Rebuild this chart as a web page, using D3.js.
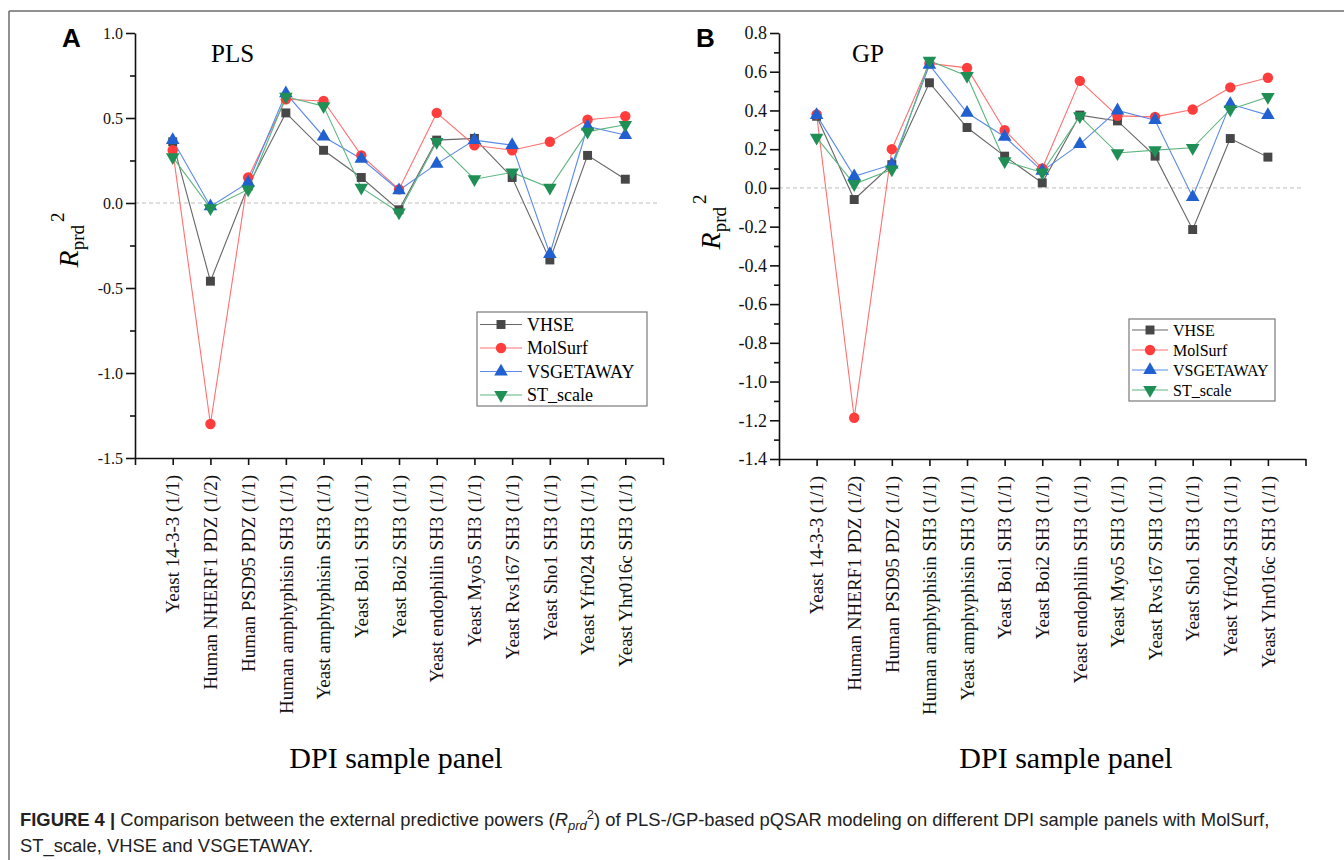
<!DOCTYPE html>
<html lang="en">
<head>
    <meta charset="UTF-8">
    <title>Figure 4 - Rprd2 comparison</title>
    <script src="https://d3js.org/d3.v7.min.js"></script>
    <style>
        body { margin: 0; background: #fff; }
        .serif { font-family: "Liberation Serif", "Times New Roman", serif; }
        .sans { font-family: "Liberation Sans", Arial, sans-serif; }
        .axis path, .axis line { stroke: #111; stroke-width: 1.6; }
        .axis text { fill: #111; }
    </style>
</head>
<body>
<div id="chart"></div>
<script>
    // DPI sample panels (x categories)
    const categories = [
        "Yeast 14-3-3 (1/1)", "Human NHERF1 PDZ (1/2)", "Human PSD95 PDZ (1/1)",
        "Human amphyphisin SH3 (1/1)", "Yeast amphyphisin SH3 (1/1)", "Yeast Boi1 SH3 (1/1)",
        "Yeast Boi2 SH3 (1/1)", "Yeast endophilin SH3 (1/1)", "Yeast Myo5 SH3 (1/1)",
        "Yeast Rvs167 SH3 (1/1)", "Yeast Sho1 SH3 (1/1)", "Yeast Yfr024 SH3 (1/1)",
        "Yeast Yhr016c SH3 (1/1)"
    ];
    const seriesNames = ["VHSE", "MolSurf", "VSGETAWAY", "ST_scale"];

    // panel A: PLS
    const plsVHSE      = [0.36, -0.46, 0.10, 0.53, 0.31, 0.15, -0.04, 0.37, 0.38, 0.15, -0.335, 0.28, 0.14];
    const plsMolSurf   = [0.31, -1.30, 0.15, 0.61, 0.60, 0.28, 0.08, 0.53, 0.34, 0.31, 0.36, 0.49, 0.51];
    const plsVSGETAWAY = [0.37, -0.02, 0.12, 0.645, 0.39, 0.26, 0.075, 0.23, 0.37, 0.34, -0.30, 0.45, 0.40];
    const plsSTscale   = [0.27, -0.03, 0.08, 0.625, 0.57, 0.09, -0.055, 0.36, 0.14, 0.18, 0.09, 0.42, 0.46];

    // panel B: GP
    const gpVHSE      = [0.37, -0.06, 0.12, 0.543, 0.312, 0.164, 0.026, 0.376, 0.346, 0.164, -0.215, 0.255, 0.159];
    const gpMolSurf   = [0.38, -1.187, 0.20, 0.643, 0.62, 0.298, 0.10, 0.553, 0.372, 0.367, 0.405, 0.519, 0.569];
    const gpVSGETAWAY = [0.376, 0.06, 0.12, 0.635, 0.388, 0.264, 0.088, 0.226, 0.40, 0.35, -0.047, 0.433, 0.376];
    const gpSTscale   = [0.26, 0.02, 0.095, 0.657, 0.578, 0.138, 0.08, 0.37, 0.18, 0.195, 0.207, 0.405, 0.47];

    // y tick values
    const plsTicks = [-1.5, -1.0, -0.5, 0.0, 0.5, 1.0];
    const gpTicks  = [-1.4, -1.2, -1.0, -0.8, -0.6, -0.4, -0.2, 0.0, 0.2, 0.4, 0.6, 0.8];

    // styles per series
    const markerColor = ["#474747", "#ff3d3d", "#2060d0", "#1f8f55"];
    const lineColor   = ["#666666", "#ff7070", "#5b8ae8", "#5db57f"];
    const invTriangle = {
        draw(ctx, size) {
            const s = Math.sqrt(size * 4 / Math.sqrt(3));
            const h = s * Math.sqrt(3) / 2;
            ctx.moveTo(0, h * 2 / 3);
            ctx.lineTo(-s / 2, -h / 3);
            ctx.lineTo(s / 2, -h / 3);
            ctx.closePath();
        }
    };
    const symbols = [d3.symbolSquare, d3.symbolCircle, d3.symbolTriangle, invTriangle];
    const symSize = [80, 85, 80, 80];

    // plain hyphen for negatives, like the original figure
    const fmt = v => d3.format(".1f")(v).replace("\u2212", "-");

    const svg = d3.select("#chart").append("svg")
        .attr("width", 1344).attr("height", 860);

    // figure frame (top and left)
    svg.append("line").attr("x1", 9).attr("y1", 11).attr("x2", 1344).attr("y2", 11)
        .attr("stroke", "#6b6b6b").attr("stroke-width", 1.5);
    svg.append("line").attr("x1", 9).attr("y1", 11).attr("x2", 9).attr("y2", 860)
        .attr("stroke", "#6b6b6b").attr("stroke-width", 1.5);

    function drawPanel(p) {
        const g = svg.append("g");
        const x = d3.scaleLinear().domain([0, categories.length + 1]).range([p.left, p.right]);
        const y = d3.scaleLinear().domain(p.domain).range([p.bottom, p.top]);

        // zero reference line
        g.append("line")
            .attr("x1", x(0)).attr("x2", x(categories.length + 1) - 3)
            .attr("y1", y(0)).attr("y2", y(0))
            .attr("stroke", "#bdbdbd").attr("stroke-width", 1)
            .attr("stroke-dasharray", "4,3");

        // minor y ticks
        g.append("g").attr("class", "axis")
            .attr("transform", `translate(${p.left},0)`)
            .call(d3.axisLeft(y).tickValues(p.minor).tickSize(5).tickFormat(""))
            .call(a => a.select(".domain").remove());

        // major y ticks
        g.append("g").attr("class", "axis serif")
            .attr("transform", `translate(${p.left},0)`)
            .call(d3.axisLeft(y).tickValues(p.ticks).tickSize(9).tickSizeOuter(0).tickPadding(3)
                .tickFormat(fmt))
            .call(a => a.selectAll("text").style("font-size", p.yFont + "px"));

        // x axis with rotated category labels
        const xt = d3.range(0, categories.length + 2);
        g.append("g").attr("class", "axis serif")
            .attr("transform", `translate(0,${p.bottom})`)
            .call(d3.axisBottom(x).tickValues(xt).tickSize(7).tickSizeOuter(0)
                .tickFormat(i => (i >= 1 && i <= categories.length) ? categories[i - 1] : ""))
            .selectAll("text")
            .style("font-size", "19px")
            .style("text-anchor", "end")
            .attr("transform", "rotate(-90)")
            .attr("x", -17).attr("y", 0).attr("dy", "0.33em");

        // series lines and markers
        p.series.forEach((vals, si) => {
            const line = d3.line().x((d, i) => x(i + 1)).y(d => y(d));
            g.append("path").datum(vals)
                .attr("fill", "none").attr("stroke", lineColor[si]).attr("stroke-width", 1.1)
                .attr("d", line);
        });
        p.series.forEach((vals, si) => {
            g.selectAll(".m" + si).data(vals).enter().append("path")
                .attr("transform", (d, i) => `translate(${x(i + 1)},${y(d)})`)
                .attr("d", d3.symbol().type(symbols[si]).size(symSize[si]))
                .attr("fill", markerColor[si]);
        });

        // panel letter and method title
        g.append("text").attr("class", "sans")
            .attr("x", p.letterX).attr("y", 47)
            .style("font-size", "26px").style("font-weight", "bold").text(p.letter);
        g.append("text").attr("class", "serif")
            .attr("x", p.titleX).attr("y", 62)
            .style("font-size", "25px").text(p.title);

        // y axis title R_prd^2
        const yt = g.append("text").attr("class", "serif")
            .attr("transform", `translate(${p.yTitleX},${p.yTitleY}) rotate(-90)`)
            .style("text-anchor", "middle");
        yt.append("tspan").style("font-style", "italic").style("font-size", "28px").text("R");
        yt.append("tspan").style("font-size", "19px").attr("dy", 6).text("prd");
        yt.append("tspan").style("font-size", "19px").attr("dy", -20).attr("dx", 3).text("2");

        // x axis title
        g.append("text").attr("class", "serif")
            .attr("x", p.xTitleX).attr("y", 768)
            .style("text-anchor", "middle").style("font-size", "30px")
            .text("DPI sample panel");

        // legend
        const lg = g.append("g");
        lg.append("rect")
            .attr("x", p.legend.x).attr("y", p.legend.y)
            .attr("width", p.legend.w).attr("height", p.legend.h)
            .attr("fill", "#fff").attr("stroke", "#7a7a7a").attr("stroke-width", 1.2);
        seriesNames.forEach((name, si) => {
            const cy = p.legend.y + p.legend.row0 + si * p.legend.step;
            const lx = p.legend.x + 3;
            lg.append("line").attr("x1", lx).attr("x2", lx + p.legend.lineW)
                .attr("y1", cy).attr("y2", cy)
                .attr("stroke", lineColor[si]).attr("stroke-width", 1.1);
            lg.append("path")
                .attr("transform", `translate(${lx + p.legend.lineW / 2},${cy})`)
                .attr("d", d3.symbol().type(symbols[si]).size(symSize[si]))
                .attr("fill", markerColor[si]);
            lg.append("text").attr("class", "serif")
                .attr("x", lx + p.legend.lineW + 5).attr("y", cy)
                .attr("dy", "0.35em")
                .style("font-size", p.legend.font + "px").text(name);
        });
    }

    drawPanel({
        left: 135, right: 663, top: 33, bottom: 458,
        domain: [-1.5, 1.0], ticks: plsTicks,
        minor: d3.range(-1.25, 1.0, 0.5),
        yFont: 16,
        series: [plsVHSE, plsMolSurf, plsVSGETAWAY, plsSTscale],
        letter: "A", letterX: 62, title: "PLS", titleX: 211,
        yTitleX: 78, yTitleY: 240, xTitleX: 396,
        legend: { x: 477, y: 312, w: 170, h: 94, row0: 12.5, step: 23.5, lineW: 42, font: 18 }
    });

    drawPanel({
        left: 779, right: 1305.5, top: 33, bottom: 459,
        domain: [-1.4, 0.8], ticks: gpTicks,
        minor: d3.range(-1.3, 0.8, 0.2),
        yFont: 18,
        series: [gpVHSE, gpMolSurf, gpVSGETAWAY, gpSTscale],
        letter: "B", letterX: 696, title: "GP", titleX: 852,
        yTitleX: 720, yTitleY: 222, xTitleX: 1066,
        legend: { x: 1129, y: 319, w: 146, h: 82, row0: 11, step: 20, lineW: 36, font: 16 }
    });

    // caption
    const cap = svg.append("text").attr("class", "sans")
        .attr("x", 20).attr("y", 826).style("font-size", "18.4px").attr("fill", "#222");
    cap.append("tspan").style("font-weight", "bold").text("FIGURE 4 | ");
    cap.append("tspan").text("Comparison between the external predictive powers (");
    cap.append("tspan").style("font-style", "italic").text("R");
    cap.append("tspan").style("font-style", "italic").style("font-size", "13px").attr("dy", 4).text("prd");
    cap.append("tspan").style("font-size", "13px").attr("dy", -11).text("2");
    cap.append("tspan").attr("dy", 7).text(") of PLS-/GP-based pQSAR modeling on different DPI sample panels with MolSurf,");
    svg.append("text").attr("class", "sans")
        .attr("x", 20).attr("y", 852).style("font-size", "18.4px").attr("fill", "#222")
        .text("ST_scale, VHSE and VSGETAWAY.");
</script>
</body>
</html>
